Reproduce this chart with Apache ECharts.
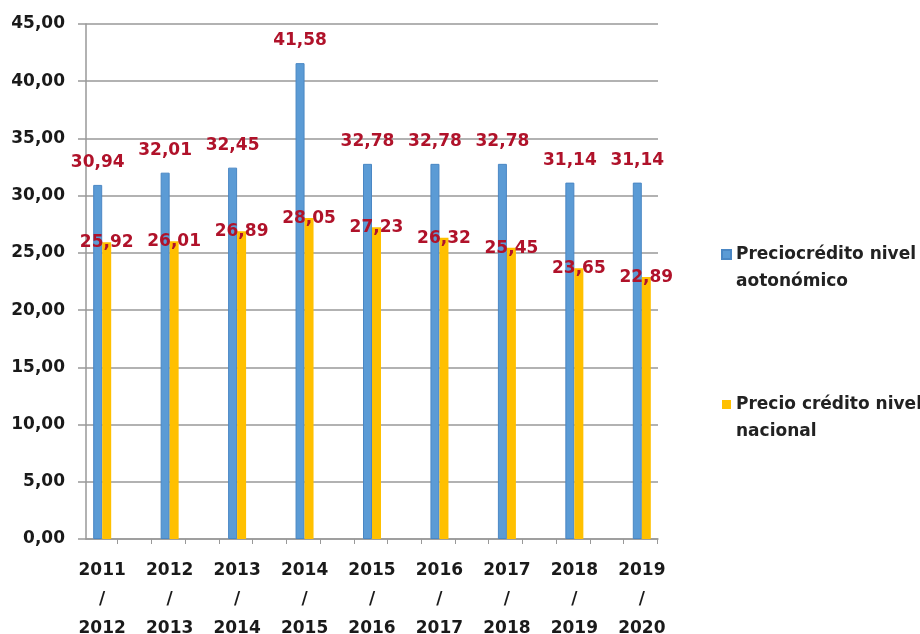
<!DOCTYPE html>
<html>
<head>
<meta charset="utf-8">
<script src="https://cdn.jsdelivr.net/npm/echarts@6/dist/echarts.min.js"></script>
<style>
  html, body { margin: 0; padding: 0; background: #fff; }
  #chart { width: 920px; height: 634px; }
</style>
</head>
<body>
<div id="chart"></div>
<script>
// Academic years on the horizontal axis
const categories = ['2011\n/\n2012', '2012\n/\n2013', '2013\n/\n2014', '2014\n/\n2015', '2015\n/\n2016',
                    '2016\n/\n2017', '2017\n/\n2018', '2018\n/\n2019', '2019\n/\n2020'];
const seriesNames = ['Preciocrédito nivel aotonómico', 'Precio crédito nivel nacional'];
// Price per credit (EUR)
const regionalPrice = [30.94, 32.01, 32.45, 41.58, 32.78, 32.78, 32.78, 31.14, 31.14];
const nationalPrice = [25.92, 26.01, 26.89, 28.05, 27.23, 26.32, 25.45, 23.65, 22.89];
const yTicks = [0, 5, 10, 15, 20, 25, 30, 35, 40, 45];

const FONT = 'DejaVu Sans';
const fmt = v => v.toFixed(2).replace('.', ',');
const idx = categories.map((_, i) => i);

// small tick marks under the baseline, two per year
const xTickMarks = [];
for (let k = 0; k < 18; k++) xTickMarks.push(-0.27 + 0.5 * k);

const chart = echarts.init(document.getElementById('chart'), null, { renderer: 'canvas' });
chart.setOption({
  animation: false,
  backgroundColor: '#ffffff',
  grid: { left: 86, right: 262, top: 24, bottom: 95, outerBoundsMode: 'none' },
  legend: {
    orient: 'vertical',
    left: 721,
    top: 214,
    padding: 0,
    itemWidth: 9,
    itemHeight: 9,
    itemGap: 69,
    icon: 'rect',
    // leading blank line keeps the swatch level with the first text line
    formatter: name => '\n' + name.replace(' nivel ', ' nivel\n'),
    textStyle: {
      fontFamily: FONT, fontWeight: 'bold', fontSize: 17, color: '#222',
      lineHeight: 27
    },
    data: seriesNames
  },
  xAxis: {
    type: 'value',
    min: -0.24,
    max: 8.24,
    splitLine: { show: false },
    axisLine: { show: true, onZero: false, lineStyle: { color: '#999', width: 1.5 } },
    axisTick: { show: true, length: 5, customValues: xTickMarks, lineStyle: { color: '#999' } },
    axisLabel: {
      customValues: idx,
      formatter: v => categories[Math.round(v)] || '',
      fontFamily: FONT, fontWeight: 'bold', fontSize: 17, color: '#1a1a1a',
      lineHeight: 29, margin: 17
    }
  },
  yAxis: {
    type: 'value',
    min: 0,
    max: 45,
    interval: 5,
    axisLine: { show: true, onZero: false, lineStyle: { color: '#999', width: 1.5 } },
    axisTick: { show: true, inside: false, length: 8, lineStyle: { color: '#999', width: 1.5 } },
    splitLine: { lineStyle: { color: '#999', width: 1.5 } },
    axisLabel: {
      formatter: v => fmt(v),
      fontFamily: FONT, fontWeight: 'bold', fontSize: 17, color: '#1a1a1a', margin: 21
    }
  },
  series: [
    {
      name: seriesNames[0],
      type: 'bar',
      barWidth: 9,
      barGap: '0%',
      itemStyle: { color: '#5b9bd5', borderColor: '#4a87c4', borderWidth: 1 },
      label: {
        show: true, position: 'top', distance: 14,
        formatter: p => fmt(p.value[1]),
        fontFamily: FONT, fontWeight: 'bold', fontSize: 17, color: '#b0122a'
      },
      data: regionalPrice.map((v, i) => [i, v])
    },
    {
      name: seriesNames[1],
      type: 'bar',
      barWidth: 9,
      barGap: '0%',
      itemStyle: { color: '#ffc000' },
      label: {
        show: true, position: 'top', distance: 0, offset: [0, 9],
        formatter: p => fmt(p.value[1]),
        fontFamily: FONT, fontWeight: 'bold', fontSize: 17, color: '#b0122a'
      },
      data: nationalPrice.map((v, i) => [i, v])
    }
  ]
});
</script>
</body>
</html>
